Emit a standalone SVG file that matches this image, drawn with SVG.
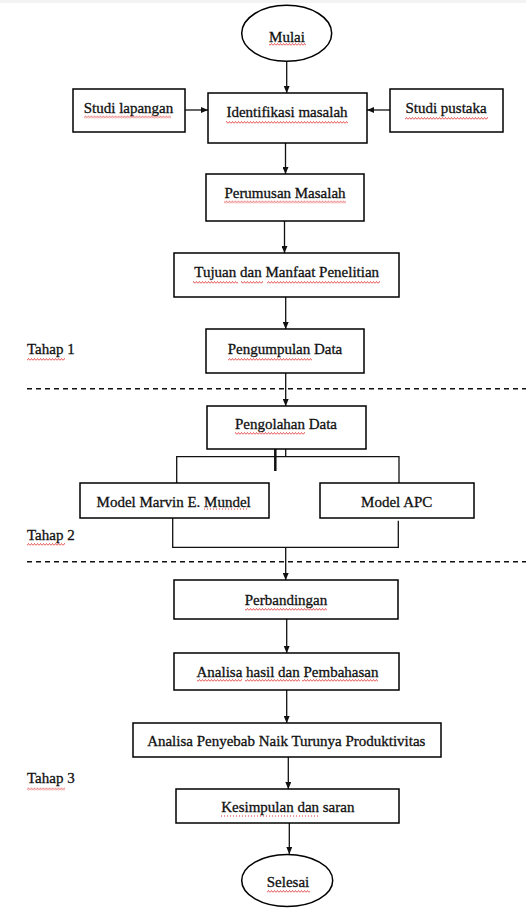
<svg xmlns="http://www.w3.org/2000/svg" width="526" height="911" viewBox="0 0 526 911">
<style>
.box{fill:#fff;stroke:#000;stroke-width:1.5}
.t{font-family:"Liberation Serif","Times New Roman",serif;font-size:15px;fill:#111;stroke:#111;stroke-width:0.3;text-anchor:middle}
.tl{font-family:"Liberation Serif","Times New Roman",serif;font-size:15px;fill:#111;stroke:#111;stroke-width:0.3}
.c{fill:none;stroke:#111;stroke-width:1.3}
.dash{fill:none;stroke:#111;stroke-width:1.5;stroke-dasharray:5 4}
.dot{stroke:#e03030;stroke-width:1.2;stroke-dasharray:1 2}
</style>
<defs>
<marker id="ah" markerUnits="userSpaceOnUse" markerWidth="7" markerHeight="6" refX="7" refY="3" orient="auto"><path d="M0,0 L7,3 L0,6 z" fill="#111"/></marker>
<pattern id="sq" patternUnits="userSpaceOnUse" width="3" height="3"><path d="M0,2.5 L1.5,0.5 L3,2.5" fill="none" stroke="#e03030" stroke-width="0.8"/></pattern>
</defs>
<rect x="0" y="0" width="526" height="911" fill="#fff"/>
<rect x="0" y="0" width="526" height="3" fill="#f3f3f3"/>

<g id="connectors">
<line class="c" x1="286.7" y1="62" x2="286.7" y2="93" marker-end="url(#ah)"/>
<line class="c" x1="185" y1="110" x2="208" y2="110" marker-end="url(#ah)"/>
<line class="c" x1="390" y1="110" x2="367" y2="110" marker-end="url(#ah)"/>
<line class="c" x1="285.5" y1="143" x2="285.5" y2="174" marker-end="url(#ah)"/>
<line class="c" x1="284.5" y1="221" x2="284.5" y2="253" marker-end="url(#ah)"/>
<line class="c" x1="285.7" y1="297" x2="285.7" y2="329" marker-end="url(#ah)"/>
<line class="c" x1="285.7" y1="373" x2="285.7" y2="406" marker-end="url(#ah)"/>
<path class="c" d="M285.7,449 V456.7 M176.7,483 V456.7 H399 V483"/>
<line x1="275.3" y1="449" x2="275.3" y2="471" stroke="#111" stroke-width="2.5"/>
<path class="c" d="M172.7,518 V547.3 H398.3 V520.7"/>
<line class="c" x1="285.7" y1="547.3" x2="285.7" y2="580" marker-end="url(#ah)"/>
<line class="c" x1="286.7" y1="619" x2="286.7" y2="653" marker-end="url(#ah)"/>
<line class="c" x1="286.7" y1="690" x2="286.7" y2="723" marker-end="url(#ah)"/>
<line class="c" x1="288.3" y1="757" x2="288.3" y2="789" marker-end="url(#ah)"/>
<line class="c" x1="289.3" y1="823" x2="289.3" y2="854" marker-end="url(#ah)"/>
<line class="dash" x1="27" y1="388.7" x2="526" y2="388.7"/>
<line class="dash" x1="27" y1="561.7" x2="526" y2="561.7"/>
</g>

<g id="mulai"><ellipse class="box" cx="286.7" cy="33.3" rx="45" ry="28"/><text class="t" x="287" y="42">Mulai</text></g>
<g id="studi-lapangan"><rect class="box" x="73" y="89" width="112" height="43"/><text class="t" x="128.5" y="113">Studi lapangan</text></g>
<g id="identifikasi"><rect class="box" x="208" y="93" width="159" height="50"/><text class="t" x="287" y="117">Identifikasi masalah</text></g>
<g id="studi-pustaka"><rect class="box" x="390" y="89" width="113" height="43"/><text class="t" x="446" y="113">Studi pustaka</text></g>
<g id="perumusan"><rect class="box" x="206" y="174" width="158" height="47"/><text class="t" x="285" y="198">Perumusan Masalah</text></g>
<g id="tujuan"><rect class="box" x="174" y="253" width="225" height="44"/><text class="t" x="286.7" y="277">Tujuan dan Manfaat Penelitian</text></g>
<g id="pengumpulan"><rect class="box" x="206" y="329" width="158" height="44"/><text class="t" x="285" y="354">Pengumpulan Data</text></g>
<g id="pengolahan"><rect class="box" x="207" y="406" width="159" height="43"/><text class="t" x="286" y="429">Pengolahan Data</text></g>
<g id="marvin"><rect class="box" x="80" y="483" width="189" height="35"/><text class="t" x="173.7" y="506.5">Model Marvin E. Mundel</text></g>
<g id="apc"><rect class="box" x="320" y="483" width="154" height="35"/><text class="t" x="396.7" y="506.5">Model APC</text></g>
<g id="perbandingan"><rect class="box" x="174" y="580" width="224" height="39"/><text class="t" x="286" y="605">Perbandingan</text></g>
<g id="analisa-hasil"><rect class="box" x="174" y="653" width="225" height="37"/><text class="t" x="287.5" y="676.5">Analisa hasil dan Pembahasan</text></g>
<g id="analisa-penyebab"><rect class="box" x="133" y="723" width="308" height="34"/><text class="t" x="286.3" y="745.5">Analisa Penyebab Naik Turunya Produktivitas</text></g>
<g id="kesimpulan"><rect class="box" x="176" y="789" width="223" height="34"/><text class="t" x="287.8" y="812">Kesimpulan dan saran</text></g>
<g id="selesai"><ellipse class="box" cx="287.2" cy="880.5" rx="45.5" ry="26"/><text class="t" x="288" y="886.5">Selesai</text></g>

<g id="tahap-labels">
<text class="tl" x="27" y="354">Tahap 1</text>
<text class="tl" x="27" y="540">Tahap 2</text>
<text class="tl" x="27" y="783">Tahap 3</text>
</g>

<g id="spellcheck">
<rect transform="translate(0,43)" x="269" width="37" height="3" fill="url(#sq)"/>
<rect transform="translate(0,115.5)" x="84" width="87" height="3" fill="url(#sq)"/>
<rect transform="translate(0,121)" x="226" width="122" height="3" fill="url(#sq)"/>
<rect transform="translate(0,117)" x="405" width="83" height="3" fill="url(#sq)"/>
<rect transform="translate(0,200.5)" x="224" width="122" height="3" fill="url(#sq)"/>
<rect transform="translate(0,281)" x="193" width="45" height="3" fill="url(#sq)"/>
<rect transform="translate(0,281)" x="241" width="22" height="3" fill="url(#sq)"/>
<rect transform="translate(0,281)" x="267" width="113" height="3" fill="url(#sq)"/>
<rect transform="translate(0,358)" x="27" width="38" height="3" fill="url(#sq)"/>
<rect transform="translate(0,358)" x="228" width="84" height="3" fill="url(#sq)"/>
<rect transform="translate(0,432)" x="235" width="70" height="3" fill="url(#sq)"/>
<line class="dot" x1="204" y1="509" x2="249" y2="509"/>
<rect transform="translate(0,543)" x="27" width="38" height="3" fill="url(#sq)"/>
<rect transform="translate(0,608)" x="245" width="82" height="3" fill="url(#sq)"/>
<rect transform="translate(0,679)" x="197" width="45" height="3" fill="url(#sq)"/>
<rect transform="translate(0,679)" x="245" width="55" height="3" fill="url(#sq)"/>
<rect transform="translate(0,679)" x="302" width="76" height="3" fill="url(#sq)"/>
<line class="dot" x1="221" y1="816" x2="319" y2="816"/>
<rect transform="translate(0,890)" x="267" width="43" height="3" fill="url(#sq)"/>
<rect transform="translate(0,787.5)" x="27" width="38" height="3" fill="url(#sq)"/>
</g>
</svg>
